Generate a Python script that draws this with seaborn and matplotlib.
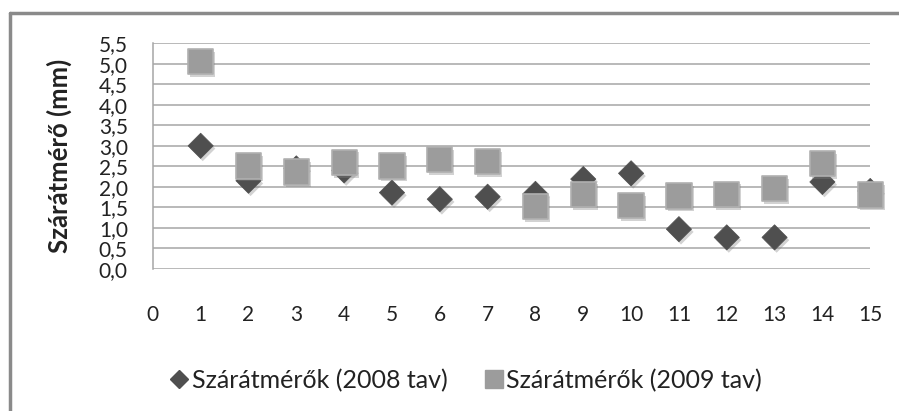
import matplotlib
matplotlib.use("Agg")
import matplotlib.pyplot as plt
import matplotlib.patheffects as pe
from matplotlib.lines import Line2D
from matplotlib.ticker import FuncFormatter
import numpy as np
import pandas as pd
import seaborn as sns

# adatok
meres = list(range(1, 16))
atmero_2008 = [3.0, 2.15, 2.45, 2.4, 1.86, 1.70, 1.76, 1.83, 2.19, 2.33, 0.97, 0.77, 0.77, 2.12, 1.90]
atmero_2009 = [5.05, 2.51, 2.36, 2.60, 2.51, 2.67, 2.61, 1.52, 1.82, 1.54, 1.78, 1.82, 1.96, 2.57, 1.80]
cimke_2008 = "Szárátmérők (2008 tav)"
cimke_2009 = "Szárátmérők (2009 tav)"

df = pd.DataFrame({
    "x": meres * 2,
    "y": atmero_2008 + atmero_2009,
    "sor": [cimke_2008] * len(meres) + [cimke_2009] * len(meres),
})

sns.set_style("white")
plt.rcParams["font.family"] = ["Lato", "DejaVu Sans"]

fig = plt.figure(figsize=(8.99, 4.11), dpi=100)
ax = fig.add_axes([0.170, 0.3455, 0.798, 0.5495])

arnyek = [pe.SimplePatchShadow(offset=(1.5, -2), shadow_rgbFace="#808080", alpha=0.35), pe.Normal()]

sns.scatterplot(data=df[df["sor"] == cimke_2008], x="x", y="y", marker="D", s=165,
                color="#4f4f4f", edgecolor="#4f4f4f", linewidth=0.5, ax=ax, zorder=3,
                legend=False)
sns.scatterplot(data=df[df["sor"] == cimke_2009], x="x", y="y", marker="s", s=330,
                color="#9c9c9c", edgecolor="#b0b0b0", linewidth=1.2, ax=ax, zorder=4,
                legend=False)
for coll in ax.collections:
    coll.set_path_effects(arnyek)
    coll.set_clip_on(False)

ax.set_xlim(0, 15)
ax.set_ylim(0, 5.5)
ax.set_xticks(range(0, 16))
ax.set_yticks(np.arange(0, 5.51, 0.5))
ax.yaxis.set_major_formatter(FuncFormatter(lambda v, p: f"{v:.1f}".replace(".", ",")))
ax.grid(axis="y", color="#a6a6a6", linewidth=1.1)
ax.grid(axis="x", visible=False)
for s in ["top", "right", "bottom"]:
    ax.spines[s].set_visible(False)
ax.spines["left"].set_color("#a6a6a6")
ax.spines["left"].set_linewidth(1.1)
ax.tick_params(axis="both", length=0, labelsize=15, labelcolor="#222222")
ax.tick_params(axis="y", pad=18)
ax.tick_params(axis="x", pad=26)
ax.set_xlabel("")
ax.set_ylabel("Szárátmérő (mm)", fontsize=18.5, fontweight="bold", color="#222222")
ax.yaxis.set_label_coords(-0.113, 0.5)

kezek = [
    Line2D([], [], marker="D", linestyle="none", markersize=9, color="#4f4f4f"),
    Line2D([], [], marker="s", linestyle="none", markersize=13, color="#9c9c9c"),
]
fig.legend(kezek, [cimke_2008, cimke_2009], loc="center", bbox_to_anchor=(0.517, 0.075),
           ncol=2, frameon=False, fontsize=18, handletextpad=0.05, columnspacing=1.4,
           handlelength=0.9, labelcolor="#222222")

# keret
fig.add_artist(plt.Line2D([0.011, 0.011], [0, 0.968], color="#8a8a8a", linewidth=2.5,
                          transform=fig.transFigure))
fig.add_artist(plt.Line2D([0.011, 1.0], [0.968, 0.968], color="#8a8a8a", linewidth=2.5,
                          transform=fig.transFigure))

fig.savefig("out.png", dpi=100)
